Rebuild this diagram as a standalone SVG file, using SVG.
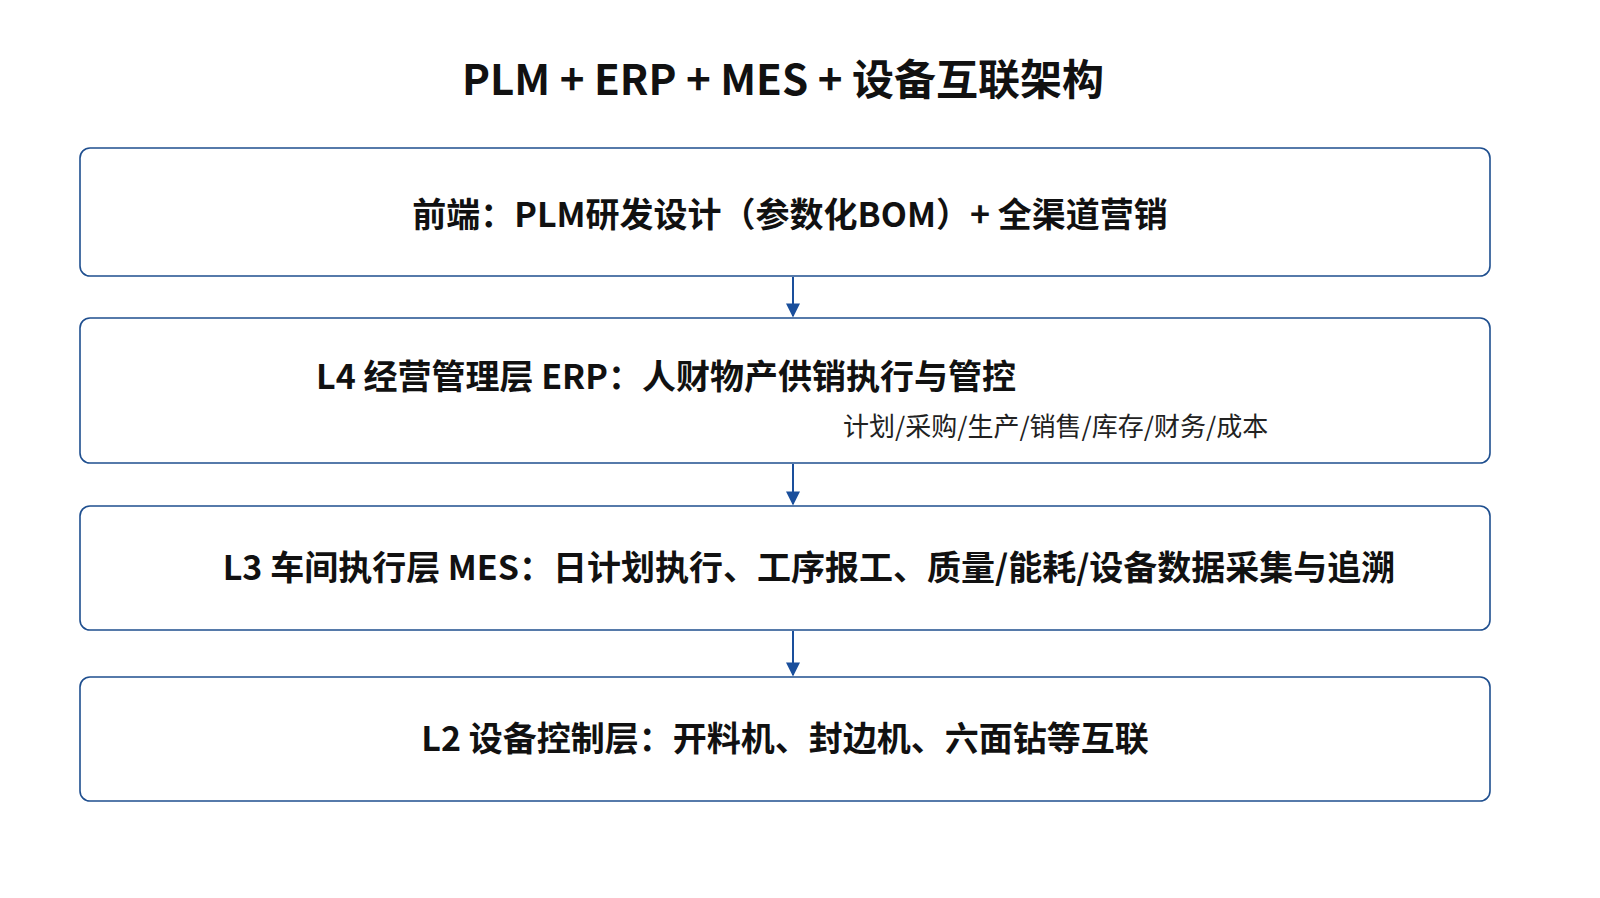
<svg xmlns="http://www.w3.org/2000/svg" width="1600" height="898" viewBox="0 0 1600 898">
<defs>
<marker id="ah2" viewBox="0 0 10 10" refX="9" refY="5" markerWidth="16" markerHeight="14" markerUnits="userSpaceOnUse" orient="auto"><path d="M0,0 L10,5 L0,10 z" fill="#1a4f9c"/></marker>
</defs>
<style>
.box{fill:#fff;stroke:#1f4f8f;stroke-width:1.6}
.t{font-family:"Noto Sans CJK SC","Noto Sans",sans-serif;font-weight:700;fill:#111;font-size:34px}
.s{font-family:"Noto Sans CJK SC","Noto Sans",sans-serif;fill:#222;font-size:26px}
.c{stroke:#1a4f9c;stroke-width:2;fill:none;marker-end:url(#ah2)}
</style>
<rect width="1600" height="898" fill="#fff"/>
<text x="783" y="95" text-anchor="middle" font-family="Noto Sans CJK SC, Noto Sans, sans-serif" font-weight="700" font-size="42" fill="#111">PLM + ERP + MES + 设备互联架构</text>
<g id="front"><rect class="box" x="80" y="148" width="1410" height="128" rx="10"/><text class="t" x="790" y="227" text-anchor="middle">前端：PLM研发设计（参数化BOM）+ 全渠道营销</text></g>
<g id="l4"><rect class="box" x="80" y="318" width="1410" height="145" rx="10"/><text class="t" x="316" y="389">L4 经营管理层 ERP：人财物产供销执行与管控</text><text class="s" x="843" y="436">计划/采购/生产/销售/库存/财务/成本</text></g>
<g id="l3"><rect class="box" x="80" y="506" width="1410" height="124" rx="10"/><text class="t" x="809" y="580" text-anchor="middle">L3 车间执行层 MES：日计划执行、工序报工、质量/能耗/设备数据采集与追溯</text></g>
<g id="l2"><rect class="box" x="80" y="677" width="1410" height="124" rx="10"/><text class="t" x="785" y="751" text-anchor="middle">L2 设备控制层：开料机、封边机、六面钻等互联</text></g>
<g id="connectors">
<line class="c" x1="793" y1="277" x2="793" y2="316"/>
<line class="c" x1="793" y1="464" x2="793" y2="504"/>
<line class="c" x1="793" y1="631" x2="793" y2="675"/>
</g>
</svg>
